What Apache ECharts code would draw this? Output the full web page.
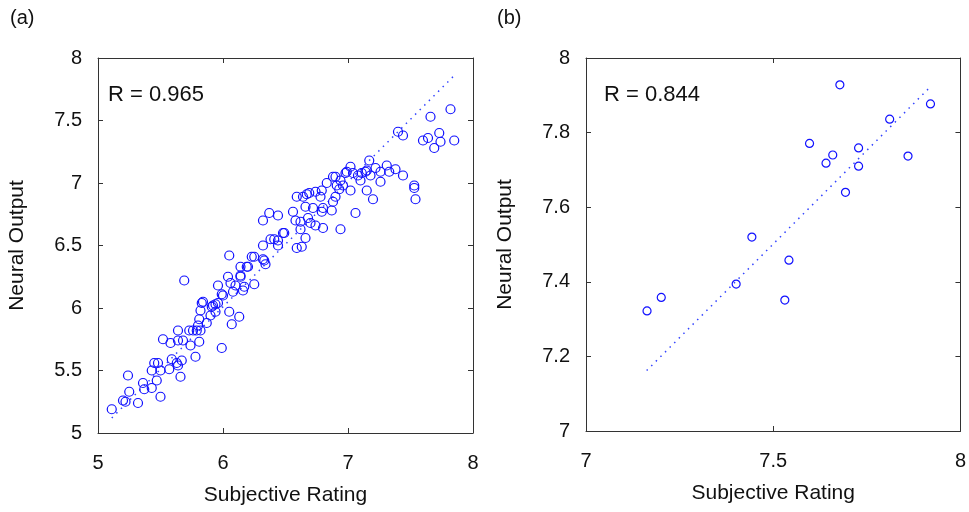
<!DOCTYPE html>
<html>
<head>
<meta charset="utf-8">
<script src="https://cdn.jsdelivr.net/npm/echarts@6/dist/echarts.min.js"></script>
<style>html,body{margin:0;padding:0;background:#fff}#c{width:969px;height:512px}</style>
</head>
<body>
<div id="c"></div>
<script>
// Panel (a) data
const ratingA = [5.11,5.20,5.22,5.24,5.25,5.32,5.36,5.37,5.43,5.47,5.50,5.43,5.45,5.48,5.50,5.57,5.59,5.63,5.64,5.67,5.66,5.52,5.58,5.64,5.68,5.64,5.74,5.78,5.81,5.73,5.76,5.79,5.82,5.81,5.80,5.82,5.83,5.87,5.90,5.91,5.94,5.96,5.94,5.99,5.99,6.05,6.07,6.13,5.69,5.96,6.06,6.10,6.17,6.16,6.25,6.08,
 6.05,6.04,6.14,6.20,6.23,6.25,6.32,6.34,6.32,6.38,6.41,6.44,6.44,6.49,6.59,6.63,6.66,6.62,6.32,6.37,6.44,6.56,6.58,6.62,6.68,6.70,6.74,6.80,6.94,6.59,6.64,6.66,6.69,6.72,6.74,6.78,6.79,6.80,6.83,6.87,6.88,6.90,6.93,6.96,6.98,7.02,7.06,6.90,6.14,6.19,6.14,6.33,
 7.82,7.66,7.40,7.44,7.60,7.64,7.73,7.74,7.69,7.85,7.17,6.99,7.04,7.08,7.11,7.15,7.18,7.22,7.26,7.31,7.33,7.38,7.44,7.10,7.15,7.20,7.26,7.53,7.53,7.54,6.88,6.91,6.94,6.67,6.79,7.02,7.14,6.48,6.00,5.84,5.92];
const outputA = [5.19,5.26,5.25,5.46,5.33,5.24,5.40,5.35,5.36,5.42,5.29,5.50,5.56,5.56,5.50,5.51,5.59,5.56,5.54,5.58,5.45,5.75,5.72,5.74,5.74,5.82,5.70,5.61,5.73,5.82,5.82,5.82,5.82,5.91,5.86,5.98,6.04,5.88,5.94,6.01,6.03,6.04,5.97,5.68,6.11,5.97,5.87,5.93,6.22,6.18,6.20,6.18,6.17,6.14,6.19,6.13,
 6.42,6.25,6.25,6.33,6.41,6.41,6.39,6.35,6.50,6.55,6.55,6.54,6.50,6.60,6.48,6.49,6.56,6.63,6.70,6.76,6.74,6.77,6.70,6.69,6.72,6.68,6.66,6.64,6.63,6.89,6.89,6.81,6.92,6.80,6.93,6.89,6.94,6.80,7.00,6.78,6.85,6.89,6.95,6.98,7.08,6.94,6.76,7.05,6.33,6.33,6.26,6.38,
 7.59,7.53,7.41,7.38,7.34,7.36,7.40,7.33,7.28,7.34,7.18,7.09,7.08,7.06,7.08,7.10,7.06,7.12,7.09,7.14,7.09,7.11,7.06,7.02,6.94,6.87,7.01,6.98,6.96,6.87,7.05,6.98,7.02,6.91,6.77,7.13,7.09,6.60,6.10,6.05,6.02];
const fitA = [[5.11, 5.12], [7.85, 7.86]];
const rLabelA = 'R = 0.965';

// Panel (b) data
const ratingB = [7.678,7.920,7.811,7.597,7.728,7.659,7.641,7.728,7.860,7.693,7.443,7.542,7.401,7.531,7.201,7.163];
const outputB = [7.928,7.877,7.836,7.771,7.759,7.740,7.718,7.710,7.737,7.640,7.520,7.458,7.394,7.351,7.358,7.322];
const fitB = [[7.162, 7.162], [7.917, 7.920]];
const rLabelB = 'R = 0.844';

const xTicksA = [5, 8, 1], yTicksA = [5, 8, 0.5];
const xTicksB = [7, 8, 0.5], yTicksB = [7, 8, 0.2];

const FONT = 'Liberation Sans, Arial, sans-serif';
const zip = (a, b) => a.map((v, i) => [v, b[i]]);

function mainX(gi, t) {
  return { gridIndex: gi, type: 'value', min: t[0], max: t[1], interval: t[2],
    name: 'Subjective Rating', nameLocation: 'middle', nameGap: 52,
    nameTextStyle: { fontFamily: FONT, fontSize: 21, color: '#111' },
    axisLine: { show: true, lineStyle: { color: '#333', width: 1 } },
    axisTick: { show: true, inside: true, length: 5, lineStyle: { color: '#333' } },
    axisLabel: { fontFamily: FONT, fontSize: 20, color: '#111', margin: 20 },
    splitLine: { show: false } };
}
function mainY(gi, t) {
  return { gridIndex: gi, type: 'value', min: t[0], max: t[1], interval: t[2],
    name: 'Neural Output', nameLocation: 'middle', nameGap: 70,
    nameTextStyle: { fontFamily: FONT, fontSize: 21, color: '#111' },
    axisLine: { show: true, lineStyle: { color: '#333', width: 1 } },
    axisTick: { show: true, inside: true, length: 5, lineStyle: { color: '#333' } },
    axisLabel: { fontFamily: FONT, fontSize: 20, color: '#111', margin: 16 },
    splitLine: { show: false } };
}
function mirrorX(gi, t) {
  return { gridIndex: gi, type: 'value', position: 'top', min: t[0], max: t[1], interval: t[2],
    axisLine: { show: true, lineStyle: { color: '#333', width: 1 } },
    axisTick: { show: true, inside: true, length: 5, lineStyle: { color: '#333' } },
    axisLabel: { show: false }, splitLine: { show: false } };
}
function mirrorY(gi, t) {
  return { gridIndex: gi, type: 'value', position: 'right', min: t[0], max: t[1], interval: t[2],
    axisLine: { show: true, lineStyle: { color: '#333', width: 1 } },
    axisTick: { show: true, inside: true, length: 5, lineStyle: { color: '#333' } },
    axisLabel: { show: false }, splitLine: { show: false } };
}

const markerStyle = { color: 'rgba(0,0,0,0)', borderColor: '#1010ff', borderWidth: 1.2, opacity: 1 };

const chart = echarts.init(document.getElementById('c'), null, { renderer: 'canvas' });
chart.setOption({
  backgroundColor: '#fff',
  animation: false,
  grid: [
    { left: 98, top: 58, width: 375, height: 375 },
    { left: 586, top: 58, width: 375, height: 373 }
  ],
  xAxis: [mainX(0, xTicksA), mainX(1, xTicksB), mirrorX(0, xTicksA), mirrorX(1, xTicksB)],
  yAxis: [mainY(0, yTicksA), mainY(1, yTicksB), mirrorY(0, yTicksA), mirrorY(1, yTicksB)],
  graphic: [
    { type: 'text', left: 10, top: 8, style: { text: '(a)', fontFamily: FONT, fontSize: 20, fill: '#111' } },
    { type: 'text', left: 497, top: 8, style: { text: '(b)', fontFamily: FONT, fontSize: 20, fill: '#111' } },
    { type: 'text', left: 108, top: 84, style: { text: rLabelA, fontFamily: FONT, fontSize: 22, fill: '#111' } },
    { type: 'text', left: 604, top: 84, style: { text: rLabelB, fontFamily: FONT, fontSize: 22, fill: '#111' } }
  ],
  series: [
    { type: 'line', xAxisIndex: 0, yAxisIndex: 0, data: fitA, symbol: 'none',
      lineStyle: { color: '#3344ff', width: 1.5, type: [1.5, 5] }, z: 1 },
    { type: 'scatter', xAxisIndex: 0, yAxisIndex: 0, data: zip(ratingA, outputA),
      symbol: 'circle', symbolSize: 9, itemStyle: markerStyle, z: 2 },
    { type: 'line', xAxisIndex: 1, yAxisIndex: 1, data: fitB, symbol: 'none',
      lineStyle: { color: '#3344ff', width: 1.5, type: [1.5, 5] }, z: 1 },
    { type: 'scatter', xAxisIndex: 1, yAxisIndex: 1, data: zip(ratingB, outputB),
      symbol: 'circle', symbolSize: 8, itemStyle: markerStyle, z: 2 }
  ]
});
</script>
</body>
</html>
